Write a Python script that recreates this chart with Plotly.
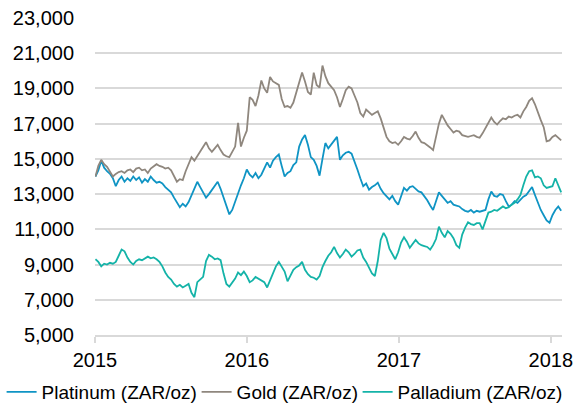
import pandas as pd
import plotly.graph_objects as go

# Weekly (Friday) price levels, ZAR per ounce
dates = pd.date_range("2015-01-02", "2018-01-26", freq="W-FRI")

platinum = [
    14000, 14350, 14900, 14500, 14300, 14150, 13900, 13450, 13800, 14000,
    13700, 13900, 13750, 14000, 13800, 13950, 13650, 13850, 13700, 14000,
    13800, 13650, 13700, 13600, 13400, 13250, 13100, 12800, 12500, 12250,
    12450, 12300, 12550, 12900, 13300, 13700, 13400, 13100, 12800, 13000,
    13250, 13500, 13700, 13300, 12800, 12300, 11850, 12100, 12600, 13000,
    13500, 13900, 14400, 14100, 13950, 14200, 13900, 14100, 14500, 14800,
    14500, 14900, 15100, 15250, 14600, 14000, 14200, 14300, 14650, 14800,
    15700, 16100, 16350, 15800, 15100, 14950, 14600, 14050, 15000, 15900,
    15600, 15800, 16000, 16250, 14950, 15200, 15350, 15400, 15300, 14900,
    14400, 13900, 13450, 13600, 13250, 13400, 13500, 13650, 13300, 13050,
    12850, 12700, 12900, 12600, 12400, 12900, 13350, 13200, 13400, 13450,
    13300, 13150, 13100, 12900, 12650, 12350, 12100, 12600, 13100, 12900,
    12700, 12500, 12600, 12400, 12350, 12300, 12150, 12050, 12000, 12100,
    11950, 12050, 12000, 12050, 12100, 12700, 13150, 12900, 12850, 13000,
    12950, 12600, 12300, 12400, 12600, 12500, 12700, 12850, 12950, 13200,
    13400, 12950, 12500, 12100, 11800, 11500, 11370, 11800, 12100, 12300,
    12050,
]

gold = [
    14000, 14600, 14950, 14700, 14550, 14300, 14000, 14150, 14250, 14300,
    14200, 14350, 14400, 14250, 14450, 14500, 14350, 14400, 14200, 14450,
    14550, 14700, 14600, 14550, 14450, 14500, 14350, 14050, 13700, 13850,
    13800, 14300, 14700, 15100, 14900, 15150, 15400, 15700, 15950, 15600,
    15400, 15600, 15800, 15500, 15250, 15150, 15100, 15400, 15700, 17050,
    15700, 16200, 16600, 18500, 18350, 18000, 18600, 19450, 19000, 18750,
    19650, 19400, 19300, 19200, 18400, 17950, 18000, 17900, 18200, 18800,
    19300, 19900, 19400, 18800, 18650, 19900, 19200, 19050, 20300, 19700,
    19300, 19100, 18900, 18500, 17950, 18400, 18900, 19100, 19000, 18600,
    18200, 17600, 17400, 17800, 17650, 17500, 17600, 17700, 17300, 16800,
    16250, 16000, 15900, 15950, 15800, 16000, 16250, 16150, 16100, 16300,
    16550, 16200, 15950, 15900, 15800, 15650, 15500, 16200, 17000, 17500,
    17200, 16900, 16700, 16500, 16600, 16550, 16350, 16300, 16250, 16300,
    16350, 16250, 16200, 16450, 16750, 17100, 17350, 17100, 16950, 17150,
    17300, 17250, 17400, 17350, 17450, 17500, 17350, 17700, 17950, 18300,
    18450, 18100, 17600, 17200, 16800, 16000, 16050, 16250, 16350, 16200,
    16050,
]

palladium = [
    9300, 9150, 8900, 9050, 9000, 9100, 9050, 9150, 9500, 9850,
    9750, 9400, 9150, 9000, 9200, 9300, 9250, 9350, 9450, 9350,
    9400, 9300, 9150, 8900, 8550, 8300, 8150, 7900, 7750, 7850,
    7700, 7800, 7900, 7400, 7150, 8000, 8150, 8300, 9200, 9550,
    9450, 9300, 9350, 9250, 8500, 7900, 7750, 7950, 8200, 8550,
    8400, 8600, 8350, 8000, 8100, 8300, 8200, 8100, 8000, 7700,
    8100, 8550, 8900, 9150, 8900, 8600, 8050, 8400, 8700, 8850,
    8950, 9150, 8700, 8450, 8300, 8250, 8150, 8350, 8850, 9200,
    9500, 9700, 10000, 9650, 9400, 9600, 9850, 9700, 9450, 9600,
    9800, 9850, 9400, 9150, 8850, 8500, 8350, 9200, 10400, 10800,
    10500, 9900, 9600, 9300, 9700, 10250, 10550, 10300, 9950, 10150,
    10400, 10200, 10100, 10050, 10000, 9850, 10100, 10450, 11150, 10800,
    10550, 10900, 10750, 10500, 10100, 9950, 10700, 11100, 11400, 11300,
    11250, 11350, 11350, 11000, 11500, 11950, 12000, 12100, 12050, 12200,
    12300, 12200, 12250, 12400, 12500, 12700, 12950, 13500, 14000, 14300,
    14350, 13950, 14000, 13900, 13500, 13350, 13400, 13450, 13900, 13550,
    13100,
]

# name, values, colour, legend entry width (px)
series = [
    ("Platinum (ZAR/oz)", platinum, "#0f94c4", 150),
    ("Gold (ZAR/oz)", gold, "#8f877e", 116),
    ("Palladium (ZAR/oz)", palladium, "#14b3a8", 160),
]

fig = go.Figure()
for name, vals, col, lw in series:
    fig.add_trace(go.Scatter(x=dates, y=vals, name=name, mode="lines",
                             line=dict(color=col, width=1.8), legendwidth=lw))

font = dict(family="Liberation Sans, Arial, sans-serif", size=20, color="#000000")

fig.update_layout(
    width=588, height=415,
    margin=dict(l=95, r=26, t=18, b=80, autoexpand=False),
    plot_bgcolor="white", paper_bgcolor="white",
    font=font,
    showlegend=True,
    legend=dict(orientation="h", x=-0.2, xanchor="left",
                y=-0.12, yanchor="top",
                font=dict(font, size=19), itemwidth=30, tracegroupgap=0,
                itemclick=False),
)
fig.update_xaxes(
    type="date", range=["2015-01-01", "2018-01-28"],
    tickvals=["2015-01-01", "2016-01-01", "2017-01-01", "2018-01-01"],
    ticktext=["2015", "2016", "2017", "2018"],
    showgrid=False, showline=True, linecolor="#d9d9d9", linewidth=1.5,
    ticks="outside", ticklen=6, tickcolor="#d9d9d9", tickwidth=1.5,
    ticklabelstandoff=0, automargin=False,
)
fig.update_yaxes(
    range=[5000, 23000], tickvals=list(range(5000, 23001, 2000)),
    tickformat=",d", showgrid=True, gridcolor="#d9d9d9", gridwidth=1.5,
    zeroline=False, showline=False, ticks="", ticklabelstandoff=20,
    automargin=False,
)

# drop the browser's default page margin so the figure sits at the window corner
fig.write_html("out.html", config={"displayModeBar": False},
               post_script="document.body.style.margin='0';")
